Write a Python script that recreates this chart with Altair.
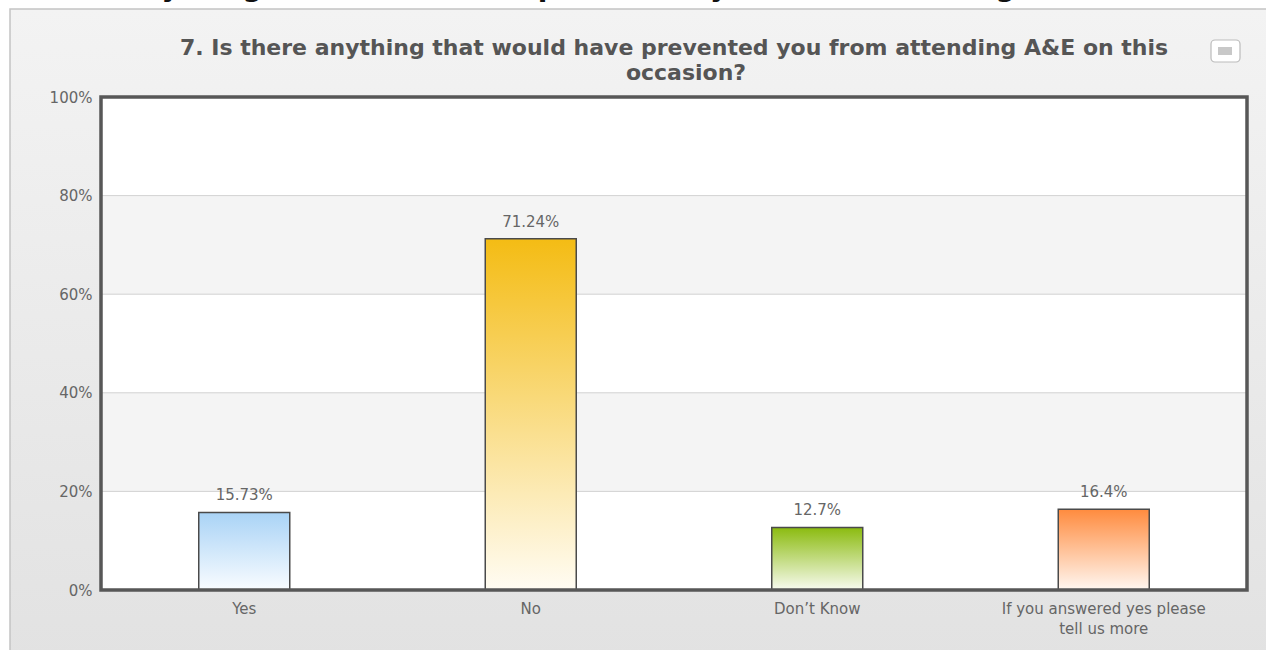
import altair as alt
import pandas as pd

# ---- data ----
categories = ["Yes", "No", "Don’t Know", "If you answered yes please tell us more"]
values = [15.73, 71.24, 12.7, 16.4]
value_labels = ["15.73%", "71.24%", "12.7%", "16.4%"]
top_colors = ["#a9d3f6", "#f4bc14", "#8bbb0f", "#ff8b3e"]
bottom_colors = ["#f9fcff", "#fffcf3", "#f8fbf0", "#fff7f1"]
y_ticks = [0, 20, 40, 60, 80, 100]
grid_ticks = [20, 40, 60, 80]
band_starts = [20, 60]
band_ends = [40, 80]
title_line1 = "7. Is there anything that would have prevented you from attending A&E on this"
title_line2 = "occasion?"
page_heading = "7. Is there anything that would have prevented you from attending A&E on this occasion?"

W, H = 1146, 493
PAD_L, PAD_T, PAD_R, PAD_B = 101, 97, 19, 60

df = pd.DataFrame({"idx": list(range(len(categories))), "category": categories,
                   "value": values, "label": value_labels})
bands = pd.DataFrame({"start": band_starts, "end": band_ends})
grid = pd.DataFrame({"tick": grid_ticks})
one = pd.DataFrame({"k": [0]})

FONT = "DejaVu Sans"
TXT = "#666666"

y_scale = alt.Scale(domain=[0, 100], nice=False, zero=True)
y_axis = alt.Axis(values=y_ticks, labelExpr="datum.value + '%'", grid=False, domain=False,
                  ticks=False, tickSize=0, labelPadding=9, title=None, labelFontSize=15,
                  labelColor=TXT, labelFont=FONT, zindex=2)
x_enc = alt.X("category:N", sort=categories,
              scale=alt.Scale(domain=categories, paddingInner=0, paddingOuter=0),
              axis=alt.Axis(title=None, labelAngle=0, domain=False, ticks=False, tickSize=0,
                            labelPadding=11, labelFontSize=15, labelColor=TXT, labelFont=FONT,
                            labelLineHeight=20, labelLimit=0, labelBaseline="top", zindex=2,
                            labelExpr="datum.label == 'If you answered yes please tell us more' ? "
                                      "['If you answered yes please', 'tell us more'] : datum.label"))


def vgrad(c_top, c_bottom):
    return alt.LinearGradient(gradient="linear", x1=0, y1=0, x2=0, y2=1,
                              stops=[alt.GradientStop(offset=0, color=c_top),
                                     alt.GradientStop(offset=1, color=c_bottom)])


# outer panel (gradient light grey)
panel = alt.Chart(one).mark_rect(fill=vgrad("#f3f3f3", "#e2e2e2"), stroke="#c4c4c4",
                                 strokeWidth=1.5).encode(
    x=alt.value(-91), x2=alt.value(1266 - PAD_L + 10),
    y=alt.value(-88), y2=alt.value(650 - PAD_T + 10))

# cropped page heading at very top (only descenders visible)
heading = alt.Chart(one).mark_text(align="left", baseline="alphabetic", fontSize=28,
                                   fontWeight="bold", font=FONT, color="#111111").encode(
    x=alt.value(-150), y=alt.value(-101.5), text=alt.value(page_heading))

# chart title (two lines)
t1 = alt.Chart(one).mark_text(align="center", baseline="middle", fontSize=22, fontWeight="bold",
                              font=FONT, color="#555555").encode(
    x=alt.value(573), y=alt.value(-49), text=alt.value(title_line1))
t2 = alt.Chart(one).mark_text(align="center", baseline="middle", fontSize=22, fontWeight="bold",
                              font=FONT, color="#555555").encode(
    x=alt.value(585), y=alt.value(-24), text=alt.value(title_line2))

# menu button
btn = alt.Chart(one).mark_rect(fill="white", stroke="#bbbbbb", strokeWidth=1.2,
                               cornerRadius=4).encode(
    x=alt.value(1110), x2=alt.value(1139), y=alt.value(-57), y2=alt.value(-35))
btn_in = alt.Chart(one).mark_rect(fill="#c8c8c8").encode(
    x=alt.value(1117), x2=alt.value(1131), y=alt.value(-50), y2=alt.value(-42))

# plot background
plot_bg = alt.Chart(one).mark_rect(fill="white").encode(
    x=alt.value(0), x2=alt.value(W), y=alt.value(0), y2=alt.value(H))

band_layer = alt.Chart(bands).mark_rect(fill="#f4f4f4").encode(
    x=alt.value(0), x2=alt.value(W),
    y=alt.Y("start:Q", scale=y_scale, axis=y_axis), y2="end:Q")

grid_layer = alt.Chart(grid).mark_rule(color="#d2d2d2", strokeWidth=1).encode(
    x=alt.value(0), x2=alt.value(W),
    y=alt.Y("tick:Q", scale=y_scale, axis=y_axis))

bar_layers = []
for i in range(len(categories)):
    bar_layers.append(
        alt.Chart(df).transform_filter(alt.datum.idx == i).mark_bar(
            size=91, fill=vgrad(top_colors[i], bottom_colors[i]), stroke="#4a4a4a",
            strokeWidth=1.5).encode(
            x=x_enc, y=alt.Y("value:Q", scale=y_scale, axis=y_axis)))

labels = alt.Chart(df).mark_text(baseline="alphabetic", dy=-12, fontSize=15, font=FONT,
                                 color=TXT).encode(
    x=x_enc, y=alt.Y("value:Q", scale=y_scale, axis=y_axis), text="label:N")

frame = alt.Chart(one).mark_rect(filled=False, stroke="#575757", strokeWidth=3.5).encode(
    x=alt.value(0), x2=alt.value(W), y=alt.value(0), y2=alt.value(H))

chart = alt.layer(
    panel, heading, t1, t2, btn, btn_in, plot_bg, band_layer, grid_layer,
    *bar_layers, labels, frame
).properties(
    width=W, height=H,
    autosize=alt.AutoSizeParams(type="none"),
    padding={"left": PAD_L, "top": PAD_T, "right": PAD_R, "bottom": PAD_B},
    background="white"
).configure_view(strokeWidth=0)

chart.save("out.html", embed_options={"renderer": "svg", "actions": False})
